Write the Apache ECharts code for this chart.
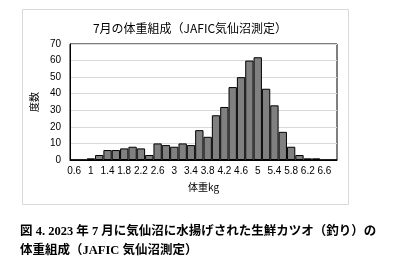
<!DOCTYPE html>
<html>
<head>
<meta charset="utf-8">
<script src="https://cdn.jsdelivr.net/npm/echarts@6/dist/echarts.min.js"></script>
<style>
html,body{margin:0;padding:0;background:#fff;}
#chart{width:394px;height:267px;}
</style>
</head>
<body>
<div id="chart"></div>
<script>
var categories = ['0.6','0.8','1','1.2','1.4','1.6','1.8','2','2.2','2.4','2.6','2.8','3','3.2','3.4','3.6','3.8','4','4.2','4.4','4.6','4.8','5','5.2','5.4','5.6','5.8','6','6.2','6.4','6.6','6.8'];
var counts = [0,0,1,3,6,6,7,8,7,3,10,9,8,10,9,18,14,27,32,44,50,60,62,43,33,17,8,3,1,1,0,0];
var chartTitle = '7月の体重組成（JAFIC気仙沼測定）';
var xName = '体重kg';
var yName = '度数';
var captionLines = ['図 4. 2023 年 7 月に気仙沼に水揚げされた生鮮カツオ（釣り）の', '体重組成（JAFIC 気仙沼測定）'];

var chart = echarts.init(document.getElementById('chart'), null, {renderer: 'canvas'});
var sans = '"Liberation Sans", Arial, "Noto Sans CJK JP", sans-serif';
chart.setOption({
  animation: false,
  backgroundColor: '#fff',
  title: {
    text: chartTitle,
    left: 185, top: 17, textAlign: 'center',
    textStyle: {fontSize: 12, fontWeight: 'normal', color: '#000', fontFamily: '"Noto Sans CJK JP", sans-serif'}
  },
  grid: {left: 70, top: 44, width: 267, height: 116, show: true, borderColor: '#000', borderWidth: 1, backgroundColor: 'transparent'},
  xAxis: {
    type: 'category', data: categories, boundaryGap: true,
    name: xName, nameLocation: 'middle', nameGap: 22,
    nameTextStyle: {fontSize: 10, color: '#000', fontFamily: '"Noto Sans CJK JP", sans-serif'},
    axisLine: {lineStyle: {color: '#000', width: 1}},
    axisTick: {show: false},
    axisLabel: {interval: 1, fontSize: 10, color: '#000', margin: 6, fontFamily: sans}
  },
  yAxis: {
    type: 'value', min: 0, max: 70, interval: 10,
    name: yName, nameLocation: 'middle', nameGap: 27, nameRotate: 90,
    nameTextStyle: {fontSize: 10, color: '#000', fontFamily: '"Noto Sans CJK JP", sans-serif'},
    axisLine: {show: true, lineStyle: {color: '#000', width: 1}},
    axisTick: {show: false},
    axisLabel: {fontSize: 10, color: '#000', margin: 9, fontFamily: sans},
    splitLine: {lineStyle: {color: '#d9d9d9', width: 1}}
  },
  series: [{
    type: 'bar', data: counts, barCategoryGap: '0%',
    itemStyle: {color: '#808080', borderColor: '#000', borderWidth: 1}
  }],
  graphic: [
    {type: 'rect', shape: {x: 22.5, y: 9.5, width: 326, height: 195}, style: {fill: 'none', stroke: '#d9d9d9', lineWidth: 1}, z: -1},
    {type: 'text', left: 20, top: 226, style: {text: captionLines[0], fontSize: 12.5, fontWeight: 'bold', fill: '#000', fontFamily: '"Liberation Serif", "Noto Sans CJK JP", serif'}},
    {type: 'text', left: 20, top: 245, style: {text: captionLines[1], fontSize: 12.5, fontWeight: 'bold', fill: '#000', fontFamily: '"Liberation Serif", "Noto Sans CJK JP", serif'}}
  ]
});
</script>
</body>
</html>
